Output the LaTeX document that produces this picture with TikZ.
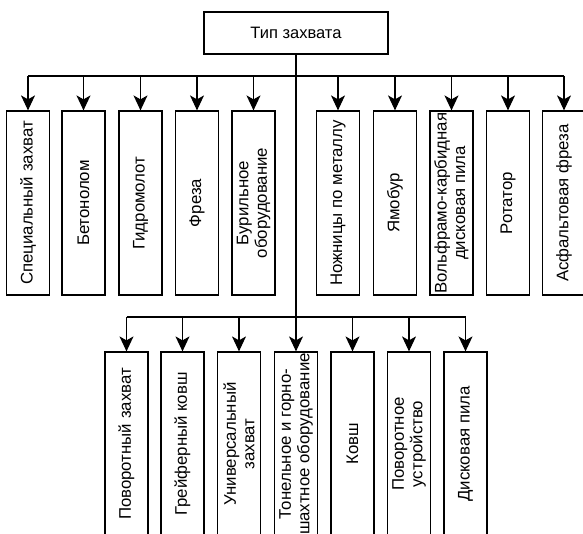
\documentclass[tikz,border=0pt]{standalone}
\usepackage{fontspec}
\setmainfont{Liberation Sans}
\usetikzlibrary{arrows.meta}
\begin{document}
\begin{tikzpicture}[x=1pt,y=-1pt,
  line/.style={line width=1.2pt,black},
  arr/.style={line, -{Stealth[length=15pt,width=14pt,inset=4pt]}},
  cat/.style={draw,line width=1.2pt,minimum width=43pt,minimum height=184pt,inner sep=0pt},
  rootbox/.style={draw,line width=1.2pt,minimum width=184pt,minimum height=42pt,inner sep=0pt,font=\fontsize{16.5}{19}\selectfont},
  vtext/.style={rotate=90,align=center,inner sep=0pt,font=\fontsize{16.8}{18.5}\selectfont}]
\useasboundingbox (0,0) rectangle (583,534);
\clip (0,0) rectangle (583,534);
\fill[white] (0,0) rectangle (583,534);

\node[rootbox] (root) at (296,33) {Тип захвата};

% top row
\node[cat] (a1) at (28,203) {};
\node[cat] (a2) at (83.5,203) {};
\node[cat] (a3) at (140.5,203) {};
\node[cat] (a4) at (197,203) {};
\node[cat] (a5) at (253.5,203) {};
\node[cat] (a6) at (338,203) {};
\node[cat] (a7) at (395,203) {};
\node[cat] (a8) at (451.5,203) {};
\node[cat] (a9) at (508,203) {};
\node[cat] (a10) at (564,203) {};

\node[vtext] (ta1) at (a1) {Специальный захват};
\node[vtext] (ta2) at (a2) {Бетонолом};
\node[vtext] (ta3) at (a3) {Гидромолот};
\node[vtext] (ta4) at (a4) {Фреза};
\node[vtext] (ta5) at (a5) {Бурильное\\оборудование};
\node[vtext] (ta6) at (a6) {Ножницы по металлу};
\node[vtext] (ta7) at (a7) {Ямобур};
\node[vtext] (ta8) at (a8) {Вольфрамо-карбидная\\дисковая пила};
\node[vtext] (ta9) at (a9) {Ротатор};
\node[vtext] (ta10) at (a10) {Асфальтовая фреза};

% bottom row
\node[cat] (c1) at (126.5,444) {};
\node[cat] (c2) at (182.5,444) {};
\node[cat] (c3) at (239,444) {};
\node[cat] (c4) at (296,444) {};
\node[cat] (c5) at (352.5,444) {};
\node[cat] (c6) at (409,444) {};
\node[cat] (c7) at (465.5,444) {};

\node[vtext] (tc1) at (c1) {Поворотный захват};
\node[vtext] (tc2) at (c2) {Грейферный ковш};
\node[vtext] (tc3) at (c3) {Универсальный\\захват};
\node[vtext] (tc4) at (c4) {Тонельное и горно-\\шахтное оборудование};
\node[vtext] (tc5) at (c5) {Ковш};
\node[vtext] (tc6) at (c6) {Поворотное\\устройство};
\node[vtext] (tc7) at (c7) {Дисковая пила};

% connectors
\coordinate (j1) at (296,76);
\coordinate (j2) at (296,317);
\draw[line] (root.south) -- (j2);
\draw[line] (a1.north |- j1) -- (a10.north |- j1);
\draw[line] (c1.north |- j2) -- (c7.north |- j2);
\foreach \n in {a1,a2,a3,a4,a5,a6,a7,a8,a9,a10}
  \draw[arr] (\n.north |- j1) -- (\n.north);
\foreach \n in {c1,c2,c3,c4,c5,c6,c7}
  \draw[arr] (\n.north |- j2) -- (\n.north);
\end{tikzpicture}
\end{document}
